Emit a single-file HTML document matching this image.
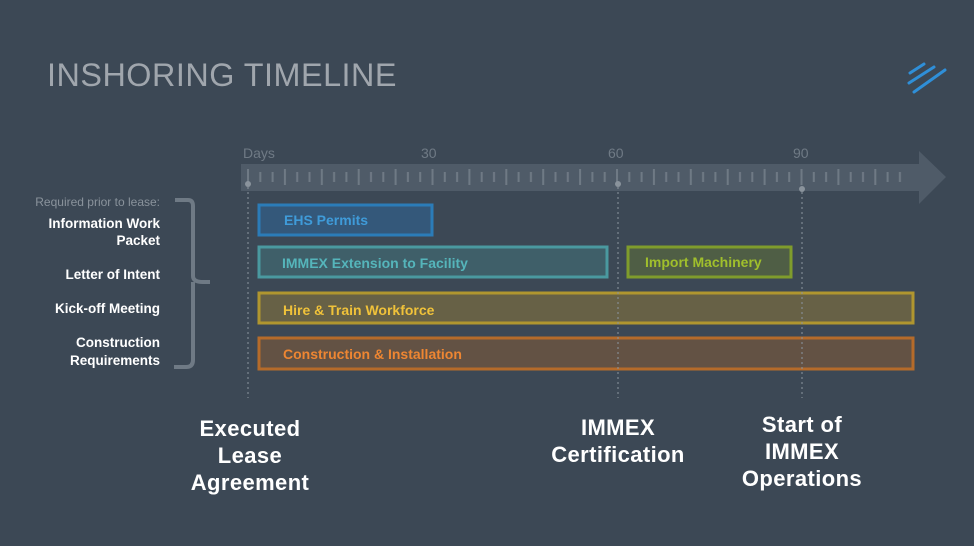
<!DOCTYPE html>
<html><head><meta charset="utf-8"><style>
html,body{margin:0;padding:0;background:#3c4855;}
svg{display:block;}
text{font-family:"Liberation Sans",sans-serif;}
</style></head><body>
<svg width="974" height="546" viewBox="0 0 974 546" xmlns="http://www.w3.org/2000/svg">
<defs>
<pattern id="tk" x="247" y="0" width="36.9" height="546" patternUnits="userSpaceOnUse">
<rect x="0" y="169" width="2" height="16" fill="#6f7a85"/>
<rect x="12.3" y="172" width="2" height="10" fill="#6f7a85"/>
<rect x="24.6" y="172" width="2" height="10" fill="#6f7a85"/>
</pattern>
</defs>
<rect width="974" height="546" fill="#3c4855"/>
<text x="47" y="86" font-size="32" fill="#a0a6ad" letter-spacing="0.5" textLength="350" lengthAdjust="spacingAndGlyphs">INSHORING TIMELINE</text>
<g stroke="#2f8fd8" stroke-width="3" stroke-linecap="round">
<line x1="910" y1="73" x2="924" y2="64"/>
<line x1="909" y1="83" x2="934" y2="67"/>
<line x1="914" y1="92" x2="945" y2="70"/>
</g>
<!-- axis -->
<text x="243" y="158" font-size="14" fill="#6f7a85">Days</text>
<text x="421" y="158" font-size="14" fill="#6f7a85">30</text>
<text x="608" y="158" font-size="14" fill="#6f7a85">60</text>
<text x="793" y="158" font-size="14" fill="#6f7a85">90</text>
<polygon points="241,164 919,164 919,151 946,177 919,204 919,191 241,191" fill="#4f5b68"/>
<rect x="246" y="165" width="662" height="22" fill="url(#tk)"/>
<g fill="#8a939c">
<circle cx="248" cy="184" r="3"/><circle cx="618" cy="184" r="3"/><circle cx="802" cy="189" r="3"/>
</g>
<!-- bracket -->
<path d="M175 200 H188 Q193 200 193 206 V276 Q193 282 203 282 H210 M193 282 Q193 288 193 290 V360 Q193 367 186 367 H174" fill="none" stroke="#6f7a85" stroke-width="4"/>
<text x="160" y="206" font-size="12" fill="#8a939c" text-anchor="end">Required prior to lease:</text>
<g font-size="13.5" font-weight="bold" fill="#ffffff" text-anchor="end">
<text x="160" y="228">Information Work</text>
<text x="160" y="245">Packet</text>
<text x="160" y="279">Letter of Intent</text>
<text x="160" y="313">Kick-off Meeting</text>
<text x="160" y="347">Construction</text>
<text x="160" y="365">Requirements</text>
</g>
<!-- bars -->
<rect x="259" y="205" width="173" height="30" fill="#34587a" stroke="#2b7cb8" stroke-width="3"/>
<text x="284" y="225" font-size="14" font-weight="bold" fill="#3f9bd9">EHS Permits</text>
<rect x="259" y="247" width="348" height="30" fill="#3f5f69" stroke="#4a99a0" stroke-width="3"/>
<text x="282" y="268" font-size="14" font-weight="bold" fill="#55b5bb">IMMEX Extension to Facility</text>
<rect x="628" y="247" width="163" height="30" fill="#4f5e45" stroke="#7f9c2c" stroke-width="3"/>
<text x="645" y="267" font-size="14" font-weight="bold" fill="#a0bf2c">Import Machinery</text>
<rect x="259" y="293" width="654" height="30" fill="#676146" stroke="#b0962f" stroke-width="3"/>
<text x="283" y="315" font-size="14" font-weight="bold" fill="#f0c23a">Hire &amp; Train Workforce</text>
<rect x="259" y="338" width="654" height="31" fill="#635244" stroke="#b56b2a" stroke-width="3"/>
<text x="283" y="359" font-size="14" font-weight="bold" fill="#ee8632">Construction &amp; Installation</text>
<!-- dotted -->
<g stroke="#8a939c" stroke-width="1.5" stroke-dasharray="2 3" opacity="0.7">
<line x1="248" y1="187" x2="248" y2="398"/>
<line x1="618" y1="187" x2="618" y2="398"/>
<line x1="802" y1="192" x2="802" y2="398"/>
</g>
<g font-size="22" font-weight="bold" fill="#ffffff" text-anchor="middle" letter-spacing="0.4">
<text x="250" y="436">Executed</text>
<text x="250" y="463">Lease</text>
<text x="250" y="490">Agreement</text>
<text x="618" y="435">IMMEX</text>
<text x="618" y="462">Certification</text>
<text x="802" y="432">Start of</text>
<text x="802" y="459">IMMEX</text>
<text x="802" y="486">Operations</text>
</g>
</svg>
</body></html>
